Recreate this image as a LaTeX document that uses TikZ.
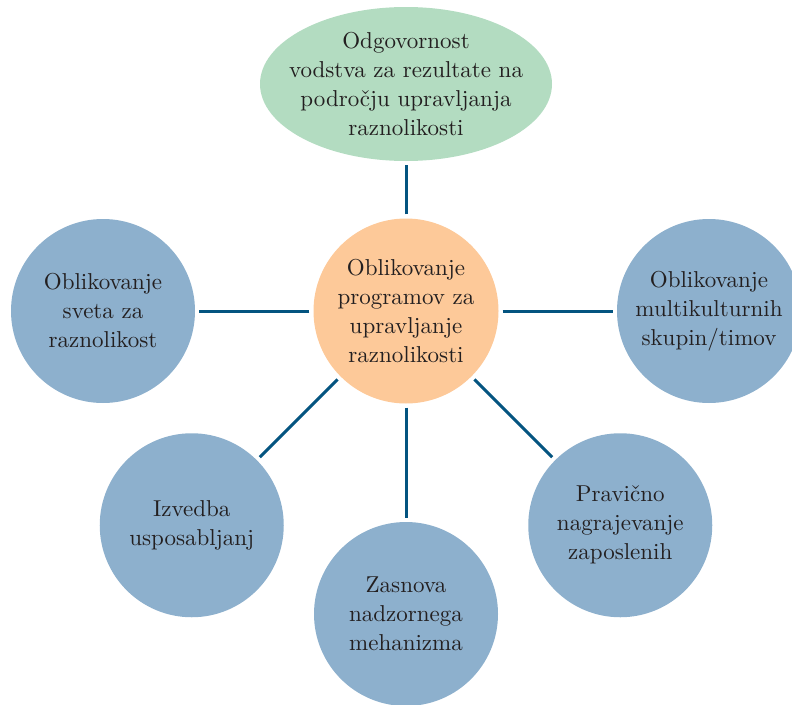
\documentclass[tikz,border=0pt]{standalone}
\usepackage{fontspec}
\setmainfont{lmroman10-regular.otf}
\usepackage{tikz}
\usetikzlibrary{shapes.geometric, arrows, positioning}

\definecolor{linkblue}{RGB}{4,84,128}
\definecolor{leafblue}{RGB}{141,176,205}
\definecolor{hubpeach}{RGB}{253,201,153}
\definecolor{topgreen}{RGB}{179,220,193}
\definecolor{inktext}{RGB}{35,31,32}

\begin{document}
\begin{tikzpicture}[x=1pt, y=-1pt, node distance=303pt,
    every node/.style={font=\fontsize{23}{29}\selectfont, text=inktext, align=center},
    leaf/.style={circle, fill=leafblue, minimum size=184pt, inner sep=0pt},
    link/.style={linkblue, line width=3pt, shorten <=4pt, shorten >=4pt}]
    \clip (0,0) rectangle (792,704);

    % Nodes
    \node (hub) [circle, fill=hubpeach, minimum size=185pt, inner sep=0pt] at (406,311) {Oblikovanje\\ programov za\\ upravljanje\\ raznolikosti};
    \node (lead) [above of=hub, node distance=227pt, ellipse, fill=topgreen, minimum width=292pt, minimum height=154pt, inner xsep=-14pt, inner ysep=0pt] {Odgovornost\\ vodstva za rezultate na\\ področju upravljanja\\ raznolikosti};
    \node (world) [left of=hub, leaf] {Oblikovanje\\ sveta za\\ raznolikost};
    \node (teams) [right of=hub, leaf] {Oblikovanje\\ multikulturnih\\ skupin/timov};
    \node (train) [below left of=hub, leaf] {Izvedba\\ usposabljanj};
    \node (control) [below of=hub, leaf] {Zasnova\\ nadzornega\\ mehanizma};
    \node (reward) [below right of=hub, leaf] {Pravično\\ nagrajevanje\\ zaposlenih};

    % Links
    \draw [link] (hub) -- (lead);
    \draw [link] (hub) -- (world);
    \draw [link] (hub) -- (teams);
    \draw [link] (hub) -- (train);
    \draw [link] (hub) -- (control);
    \draw [link] (hub) -- (reward);
\end{tikzpicture}
\end{document}
